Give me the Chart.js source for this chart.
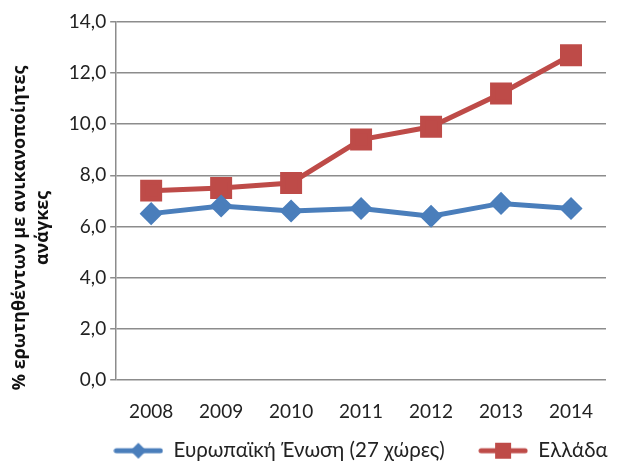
<!DOCTYPE html>
<html lang="el">
<head>
  <meta charset="UTF-8" />
  <title>Ανικανοποίητες ανάγκες</title>
  <style>
    html, body { margin: 0; padding: 0; background: #fff; }
    #wrap { width: 623px; height: 466px; }
  </style>
</head>
<body>
  <div id="wrap"><canvas id="chart"></canvas></div>

  <script src="https://cdn.jsdelivr.net/npm/chart.js"></script>
  <script>
    const years = ['2008', '2009', '2010', '2011', '2012', '2013', '2014'];
    const euValues = [6.5, 6.8, 6.6, 6.7, 6.4, 6.9, 6.7];
    const greeceValues = [7.4, 7.5, 7.7, 9.4, 9.9, 11.2, 12.7];
    const seriesNames = ['Ευρωπαϊκή Ένωση (27 χώρες)', 'Ελλάδα'];
    const yTitle = ['% ερωτηθέντων με ανικανοποίητες', 'ανάγκες'];

    const blue = '#4a7ebb';
    const red = '#be4b48';
    const fontFamily = 'Lato, "Open Sans", sans-serif';

    // little picture of line + marker for the legend
    function legendIcon(color, shape) {
      const c = document.createElement('canvas');
      c.width = 50; c.height = 18;
      const g = c.getContext('2d');
      g.strokeStyle = color;
      g.lineWidth = 5;
      g.lineCap = 'round';
      g.beginPath();
      g.moveTo(3, 9); g.lineTo(47, 9);
      g.stroke();
      g.fillStyle = color;
      g.beginPath();
      if (shape === 'diamond') {
        g.moveTo(25, 1); g.lineTo(33, 9); g.lineTo(25, 17); g.lineTo(17, 9);
      } else {
        g.rect(17, 1, 16, 16);
      }
      g.fill();
      return c;
    }

    const icons = [legendIcon(blue, 'diamond'), legendIcon(red, 'square')];
    // extra room after each entry, like the original legend
    const labelGap = ['\u2003\u2003\u2009', '\u2003'];
    // trailing space nudges the rotated title down a little
    const titlePad = '\u2003\u2003\u2003';

    new Chart(document.getElementById('chart'), {
      type: 'line',
      data: {
        labels: years,
        datasets: [
          {
            label: seriesNames[0],
            data: euValues,
            borderColor: blue,
            backgroundColor: blue,
            borderWidth: 5,
            pointStyle: 'rectRot',
            pointRadius: 8,
            pointHoverRadius: 8,
            tension: 0
          },
          {
            label: seriesNames[1],
            data: greeceValues,
            borderColor: red,
            backgroundColor: red,
            borderWidth: 5,
            pointStyle: 'rect',
            pointRadius: 12,
            pointHoverRadius: 12,
            tension: 0
          }
        ]
      },
      options: {
        responsive: true,
        maintainAspectRatio: false,
        animation: false,
        layout: { padding: { top: 22, right: 0, left: 8, bottom: -5 } },
        plugins: {
          tooltip: { enabled: false },
          legend: {
            position: 'bottom',
            align: 'end',
            labels: {
              usePointStyle: true,
              pointStyleWidth: 50,
              boxHeight: 16,
              padding: 0,
              color: '#222',
              font: { family: fontFamily, size: 20.5 },
              generateLabels(chart) {
                return chart.data.datasets.map((ds, i) => ({
                  text: ds.label + labelGap[i],
                  pointStyle: icons[i],
                  fillStyle: ds.borderColor,
                  strokeStyle: ds.borderColor,
                  lineWidth: 0,
                  datasetIndex: i,
                  fontColor: '#222'
                }));
              }
            }
          }
        },
        scales: {
          x: {
            offset: true,
            grid: { display: false, drawTicks: false },
            border: { display: false },
            ticks: {
              color: '#222',
              padding: 21,
              font: { family: fontFamily, size: 19 }
            },
            afterFit(axis) { axis.height -= 4; }
          },
          y: {
            min: 0,
            max: 14,
            ticks: {
              stepSize: 2,
              color: '#222',
              padding: 4,
              font: { family: fontFamily, size: 19 },
              callback: v => v.toFixed(1).replace('.', ',')
            },
            grid: { color: '#8c8c8c', lineWidth: 1.5, tickLength: 6 },
            border: { color: '#8c8c8c', width: 1.5 },
            title: {
              display: true,
              text: yTitle.map(t => t + titlePad),
              color: '#111',
              padding: { top: 0, bottom: 10 },
              font: { family: '"Open Sans", sans-serif', size: 18, weight: 'bold', lineHeight: 1.3 }
            }
          }
        }
      }
    });
  </script>
</body>
</html>
